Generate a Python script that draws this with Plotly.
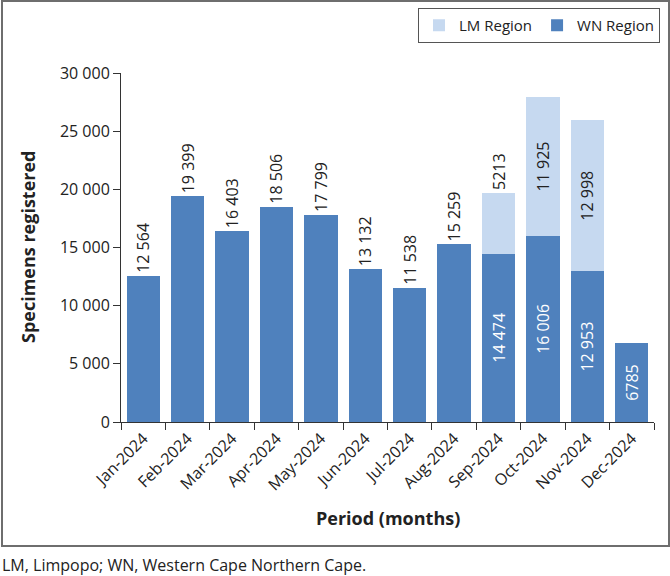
import plotly.graph_objects as go

# ---- data ----
months = ["Jan-2024", "Feb-2024", "Mar-2024", "Apr-2024", "May-2024", "Jun-2024",
          "Jul-2024", "Aug-2024", "Sep-2024", "Oct-2024", "Nov-2024", "Dec-2024"]
wn_values = [12564, 19399, 16403, 18506, 17799, 13132, 11538, 15259, 14474, 16006, 12953, 6785]
lm_values = [None, None, None, None, None, None, None, None, 5213, 11925, 12998, None]
y_tick_vals = [0, 5000, 10000, 15000, 20000, 25000, 30000]
y_tick_text = ["0", "5 000", "10 000", "15 000", "20 000", "25 000", "30 000"]

WN_COLOR = "#4f81bd"
LM_COLOR = "#c6d9f0"
TXT = "#222222"
FONT = "Open Sans"


def fmt(v):
    if v is None:
        return ""
    return f"{v:,}".replace(",", " ") if v >= 10000 else str(v)


# per-point label placement
wn_pos = ["inside" if lm is not None or v < 8000 else "outside" for v, lm in zip(wn_values, lm_values)]
wn_inside_col = ["white"] * len(months)
lm_pos = ["outside" if (lm is not None and lm < 8000) else "inside" for lm in lm_values]

# ---- pixel layout helpers ----
W, H = 670, 576
L, R, T, B = 121, 654, 73, 422


def px(x):
    return (x - L) / (R - L)


def py(y):
    return (B - y) / (B - T)


fig = go.Figure()
fig.add_trace(go.Bar(
    x=months, y=wn_values, name="WN Region",
    marker=dict(color=WN_COLOR, line=dict(width=0)),
    text=[fmt(v) for v in wn_values], textposition=wn_pos,
    textangle=-90, insidetextanchor="middle", cliponaxis=False, constraintext="none",
    insidetextfont=dict(color=wn_inside_col, size=16, family=FONT),
    outsidetextfont=dict(color=TXT, size=16, family=FONT),
    hoverinfo="skip",
))
fig.add_trace(go.Bar(
    x=months, y=lm_values, name="LM Region",
    marker=dict(color=LM_COLOR, line=dict(width=0)),
    text=[fmt(v) for v in lm_values], textposition=lm_pos,
    textangle=-90, insidetextanchor="middle", cliponaxis=False, constraintext="none",
    insidetextfont=dict(color=TXT, size=16, family=FONT),
    outsidetextfont=dict(color=TXT, size=16, family=FONT),
    hoverinfo="skip",
))

fig.update_layout(
    width=W, height=H,
    margin=dict(l=L, r=W - R, t=T, b=H - B, autoexpand=False),
    paper_bgcolor="white", plot_bgcolor="white",
    barmode="stack", bargap=0.25,
    font=dict(family=FONT, size=16, color=TXT),
    showlegend=True,
    legend=dict(
        orientation="h", traceorder="reversed",
        x=px(660), xanchor="right", y=py(8), yanchor="top",
        bordercolor="#555555", borderwidth=1, bgcolor="white",
        font=dict(size=15, family=FONT, color=TXT),
    ),
    xaxis=dict(
        type="category", range=[-0.5, len(months) - 0.5],
        showline=True, linecolor="#333333", linewidth=1,
        ticks="outside", tickson="boundaries", ticklen=7, tickcolor="#333333",
        tickangle=-45, tickfont=dict(size=16, family=FONT, color=TXT),
        showgrid=False, zeroline=False, fixedrange=True,
    ),
    yaxis=dict(
        range=[0, 30000], tickvals=y_tick_vals, ticktext=y_tick_text,
        showline=True, linecolor="#333333", linewidth=1,
        ticks="outside", ticklen=7, tickcolor="#333333",
        tickfont=dict(size=16, family=FONT, color=TXT),
        showgrid=False, zeroline=False, fixedrange=True,
    ),
    shapes=[dict(
        type="rect", xref="paper", yref="paper",
        x0=px(2), x1=px(669), y0=py(546), y1=py(1),
        line=dict(color="#6e6e6e", width=2), fillcolor="rgba(0,0,0,0)", layer="below",
    )],
    annotations=[
        dict(text="<b>Specimens registered</b>", xref="paper", yref="paper",
             x=px(28), y=py(247), xanchor="center", yanchor="middle",
             textangle=-90, showarrow=False, font=dict(size=18, family=FONT, color=TXT)),
        dict(text="<b>Period (months)</b>", xref="paper", yref="paper",
             x=px(387.5), y=py(518), xanchor="center", yanchor="middle",
             showarrow=False, font=dict(size=18, family=FONT, color=TXT)),
        dict(text="LM, Limpopo; WN, Western Cape Northern Cape.", xref="paper", yref="paper",
             x=px(0), y=py(565), xanchor="left", yanchor="middle",
             showarrow=False, font=dict(size=16, family=FONT, color=TXT)),
    ],
)

fig.write_html("out.html")
